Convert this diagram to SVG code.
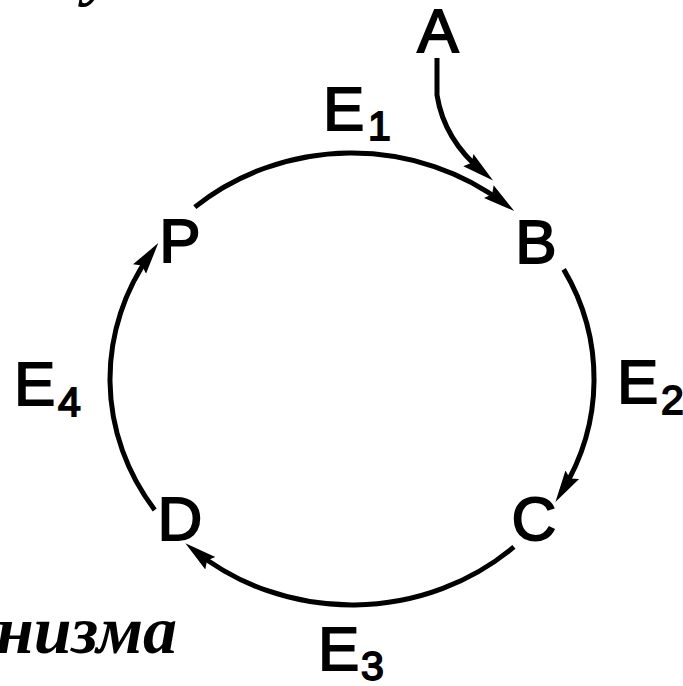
<svg xmlns="http://www.w3.org/2000/svg" width="683" height="686" viewBox="0 0 683 686">
  <defs>
    <style>
      .lbl { font-family: "Liberation Sans", Arial, sans-serif; font-size: 62px; fill: #000; stroke: #000; stroke-width: 1.8px; }
      .sub { font-size: 41px; }
      .edge { fill: none; stroke: #000; stroke-width: 5; stroke-linecap: butt; marker-end: url(#arr); }
      .cap { font-family: "Liberation Serif", "Times New Roman", serif; font-style: italic; font-weight: bold; font-size: 68px; fill: #000; }
    </style>
    <marker id="arr" markerUnits="userSpaceOnUse" markerWidth="32" markerHeight="18" viewBox="0 0 30 16" refX="19" refY="8" orient="auto">
      <path d="M0,0.5 L30,8 L0,15.5 L4,8 z" fill="#000"/>
    </marker>
  </defs>
  <rect width="683" height="686" fill="#fff"/>

  <text class="cap" x="85" y="-7">у</text>
  <text class="cap" x="177" y="653" text-anchor="end">низма</text>

  <g id="connectors">
    <path id="e1" class="edge" d="M194.8,207.1 A242,226 0 0 1 504.9,203.9"/>
    <path id="e2" class="edge" d="M563.7,269.4 A242,226 0 0 1 561.6,492.0"/>
    <path id="e3" class="edge" d="M513.9,546.9 A242,226 0 0 1 194.5,550.6"/>
    <path id="e4" class="edge" d="M154.7,509.9 A242,226 0 0 1 151.4,252.6"/>
    <path id="a-b" class="edge" d="M437,58 L437,95 Q444,140 484,173"/>
  </g>

  <g id="edge-labels">
    <text id="E1" class="lbl" x="323" y="130">E<tspan class="sub" x="368" y="140">1</tspan></text>
    <text id="E2" class="lbl" x="617" y="403">E<tspan class="sub" x="661" y="414">2</tspan></text>
    <text id="E3" class="lbl" x="318" y="670">E<tspan class="sub" x="361" y="680">3</tspan></text>
    <text id="E4" class="lbl" x="14" y="405">E<tspan class="sub" x="58" y="416">4</tspan></text>
  </g>

  <g id="node-A"><text class="lbl" x="438" y="52" text-anchor="middle">A</text></g>
  <g id="node-B"><text class="lbl" x="536" y="263" text-anchor="middle">B</text></g>
  <g id="node-C"><text class="lbl" x="534" y="540" text-anchor="middle">C</text></g>
  <g id="node-D"><text class="lbl" x="180" y="540" text-anchor="middle">D</text></g>
  <g id="node-P"><text class="lbl" x="180" y="262" text-anchor="middle">P</text></g>
</svg>
